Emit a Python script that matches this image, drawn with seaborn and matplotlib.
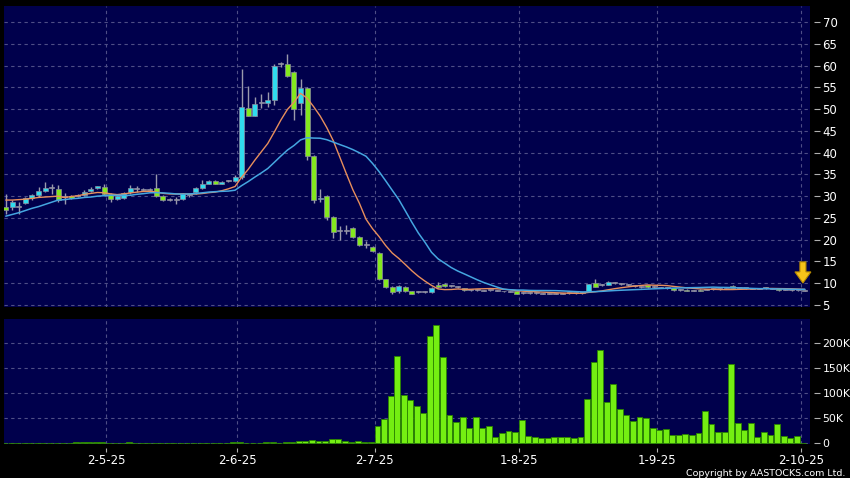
import numpy as np
import pandas as pd
import matplotlib
matplotlib.use("Agg")
import matplotlib.pyplot as plt
from matplotlib.patches import Polygon
from matplotlib import font_manager
import seaborn as sns

# ---------------- data (trading-day index 0..122) ----------------
opens = [27.4, 27.4, 27.5, 28.5, 29.5, 30.2, 31.1, 31.8, 31.6, 29.8,
         30.0, 30.0, 30.2, 31.1, 31.8, 32.1, 30.5, 29.4, 29.5, 31.0,
         31.6, 31.5, 31.5, 31.8, 30.0, 29.2, 29.2, 29.3, 30.3, 30.9,
         31.9, 32.9, 33.5, 32.9, 33.5, 33.4, 34.3, 50.3, 48.5, 51.3,
         51.3, 52.1, 60.3, 60.3, 58.6, 51.3, 54.9, 39.2, 29.3, 30.0,
         25.3, 22.1, 22.1, 22.6, 20.6, 18.7, 18.4, 16.9, 10.9, 9.1,
         8.2, 9.1, 8.2, 7.9, 7.9, 7.9, 9.7, 9.8, 9.4, 9.1,
         8.9, 8.4, 8.4, 8.3, 8.4, 8.3, 8.1, 8.0, 8.1, 7.8,
         7.8, 7.7, 7.7, 7.6, 7.7, 7.6, 7.7, 7.7, 7.8, 8.3,
         10.1, 9.6, 9.7, 10.1, 9.9, 9.6, 9.4, 9.2, 9.5, 9.1,
         9.0, 8.9, 8.8, 8.4, 8.5, 8.3, 8.5, 8.5, 8.6, 8.7,
         8.7, 9.3, 8.9, 8.8, 8.7, 8.7, 8.8, 8.7, 8.8, 8.5,
         8.5, 8.4, 8.3]
closes = [26.9, 28.6, 27.5, 29.6, 30.2, 31.1, 31.9, 31.8, 29.2, 29.8,
          29.6, 30.0, 31.0, 31.7, 32.3, 30.5, 29.4, 30.0, 30.8, 31.9,
          31.6, 31.5, 31.5, 30.1, 29.1, 29.2, 29.2, 30.5, 30.3, 31.9,
          32.7, 33.5, 32.9, 33.2, 33.5, 34.4, 50.4, 48.5, 51.2, 51.3,
          52.1, 59.9, 60.3, 57.6, 50.0, 54.9, 39.2, 29.0, 29.6, 25.1,
          21.7, 22.1, 22.1, 20.7, 18.8, 18.7, 17.3, 10.9, 9.1, 7.9,
          9.4, 8.1, 7.6, 7.9, 7.9, 8.9, 9.2, 9.3, 9.4, 9.1,
          8.4, 8.4, 8.4, 8.3, 8.4, 8.3, 8.1, 8.0, 7.6, 7.8,
          7.8, 7.7, 7.6, 7.6, 7.6, 7.7, 7.7, 7.7, 7.8, 9.8,
          9.2, 9.6, 10.35, 10.1, 9.8, 9.6, 9.4, 9.2, 9.05, 9.1,
          9.0, 8.9, 8.4, 8.5, 8.2, 8.4, 8.2, 8.6, 8.7, 8.7,
          8.8, 9.0, 8.9, 8.8, 8.7, 8.7, 9.0, 8.7, 8.4, 8.5,
          8.4, 8.4, 8.3]
highs = [30.6, 29.2, 28.6, 29.9, 30.5, 32.0, 33.3, 32.9, 32.5, 30.7,
         30.3, 30.4, 31.5, 32.1, 32.4, 32.8, 30.8, 30.4, 31.0, 32.5,
         32.3, 31.8, 31.8, 35.2, 30.2, 29.5, 29.7, 30.7, 30.6, 32.1,
         33.7, 33.6, 33.7, 33.5, 33.8, 34.8, 59.3, 55.3, 52.8, 53.4,
         54.0, 60.3, 60.9, 62.6, 58.8, 57.0, 55.0, 39.4, 31.6, 30.2,
         25.5, 23.2, 23.4, 22.9, 20.8, 19.6, 18.6, 17.1, 11.0, 9.4,
         9.6, 9.3, 8.3, 8.1, 8.1, 9.1, 10.2, 10.1, 9.6, 9.3,
         9.0, 8.6, 8.6, 8.5, 8.5, 8.4, 8.3, 8.2, 8.2, 7.9,
         7.9, 7.9, 7.8, 7.8, 7.8, 7.8, 7.8, 7.9, 8.0, 9.9,
         10.9, 9.9, 10.5, 10.3, 10.1, 9.8, 9.6, 9.4, 9.6, 9.3,
         9.2, 9.1, 8.9, 8.6, 8.6, 8.5, 8.6, 8.7, 8.8, 8.8,
         8.9, 9.6, 9.0, 8.9, 8.9, 8.8, 9.2, 8.9, 8.9, 8.6,
         8.6, 8.5, 8.4]
lows = [25.9, 26.9, 26.0, 28.2, 29.2, 29.8, 30.9, 30.6, 28.7, 28.3,
        29.3, 29.7, 30.0, 30.9, 31.6, 30.2, 28.7, 29.2, 29.3, 30.6,
        30.9, 31.2, 31.2, 29.9, 28.9, 28.8, 28.2, 29.0, 29.9, 30.5,
        31.7, 32.7, 32.7, 32.8, 33.2, 33.2, 34.0, 48.3, 48.3, 50.2,
        50.5, 50.9, 59.6, 57.4, 47.5, 48.6, 38.3, 28.4, 28.7, 24.6,
        20.5, 19.9, 21.4, 20.5, 18.6, 18.0, 17.2, 10.8, 9.0, 7.5,
        7.7, 8.0, 7.5, 7.7, 7.7, 7.8, 9.0, 9.2, 9.2, 8.9,
        8.3, 8.2, 8.2, 8.1, 8.2, 8.1, 8.0, 7.9, 7.5, 7.6,
        7.6, 7.5, 7.5, 7.5, 7.5, 7.5, 7.5, 7.6, 7.6, 8.2,
        9.1, 9.3, 9.6, 9.8, 9.6, 9.4, 9.2, 9.0, 9.0, 8.9,
        8.8, 8.7, 8.3, 8.2, 8.1, 8.2, 8.2, 8.4, 8.5, 8.5,
        8.6, 8.9, 8.7, 8.6, 8.6, 8.6, 8.7, 8.6, 8.3, 8.4,
        8.3, 8.3, 8.2]
volumes = [400, 500, 300, 400, 600, 500, 400, 300, 600, 400,
           500, 2500, 2200, 2000, 2300, 1800, 1000, 800, 1200, 2000,
           600, 500, 700, 1500, 800, 500, 600, 700, 500, 800,
           600, 700, 500, 600, 800, 3000, 3500, 1500, 1000, 1200,
           2000, 2200, 1000, 3000, 3200, 4800, 4600, 6800, 5200, 5400,
           8000, 7800, 4800, 3000, 4700, 3000, 3200, 34700, 49300, 95300,
           174700, 97300, 86000, 74700, 60000, 214700, 236700, 172000, 56000, 42700,
           52700, 30700, 52700, 30700, 34000, 13300, 21300, 25300, 23300, 46700,
           14700, 13300, 10700, 10700, 12700, 12700, 12000, 10700, 12700, 89300,
           163300, 186700, 82700, 118000, 69300, 57300, 44000, 52700, 50000, 30000,
           26000, 28000, 16000, 17300, 18000, 17300, 20000, 65300, 38700, 22700,
           22700, 158700, 40000, 26700, 40000, 12700, 23300, 16700, 38000, 14700,
           11300, 14000, 500]
# moving-average values at the left edge (window extends before the visible data)
ma10_head = [29.1, 29.1, 29.2, 29.3, 29.5, 29.7, 29.8, 29.9, 30.0]
ma20_head = [25.4, 25.8, 26.2, 26.7, 27.2, 27.6, 28.1, 28.6, 29.1, 29.2,
             29.4, 29.5, 29.7, 29.8, 30.0, 30.1, 30.2, 30.2, 30.2]
tick_days = [16, 36, 57, 79, 100, 122]
tick_labels = ["2-5-25", "2-6-25", "2-7-25", "1-8-25", "1-9-25", "2-10-25"]
price_ticks = [5, 10, 15, 20, 25, 30, 35, 40, 45, 50, 55, 60, 65, 70]
vol_ticks = [0, 50000, 100000, 150000, 200000]
vol_labels = ["0", "50K", "100K", "150K", "200K"]

# ---------------- style ----------------
sns.set_theme(style="dark")
plt.rcParams['font.family'] = ['DejaVu Sans']

NAVY = '#00004c'
GRID = '#4e4e86'
UP = '#30dcee'
DOWN = '#84e81e'
DOJI = '#a8a8b8'
WICK = '#9a9aac'
MA10C = '#e88f5c'
MA20C = '#45a6e0'
VOLC = '#74ee12'
VOLE = '#2a8400'

df = pd.DataFrame({"day": np.arange(len(closes)), "open": opens, "high": highs,
                   "low": lows, "close": closes, "volume": volumes})
ma10 = df["close"].rolling(10).mean().to_numpy()
ma10[:len(ma10_head)] = ma10_head
ma20 = df["close"].rolling(20).mean().to_numpy()
ma20[:len(ma20_head)] = ma20_head
df["ma10"] = ma10
df["ma20"] = ma20
df["vol_x"] = df["day"] - 0.25

fig = plt.figure(figsize=(8.5, 4.78), dpi=100, facecolor='black')
axp = fig.add_axes([4 / 850, 1 - 307 / 478, 806 / 850, 301 / 478])
axv = fig.add_axes([4 / 850, 1 - 444 / 478, 806 / 850, 125 / 478])

XMIN, XMAX = -0.27, 122.78
tick_pos = [d - 0.65 for d in tick_days]

for ax in (axp, axv):
    ax.set_facecolor(NAVY)
    for s in ax.spines.values():
        s.set_visible(False)

# ---------------- price panel ----------------
o = df["open"].to_numpy(); c = df["close"].to_numpy()
diff = c - o
colors = [UP if d > 0.12 else (DOWN if d < -0.12 else DOJI) for d in diff]
bottoms = np.minimum(o, c)
heights = np.maximum(np.abs(diff), 0.22)
axp.vlines(df["day"], df["low"], df["high"], color=WICK, lw=1.0, zorder=2)
axp.bar(df["day"], heights, bottom=bottoms, width=0.76, color=colors,
        edgecolor='#8c8ca0', linewidth=0.5, zorder=3)
sns.lineplot(data=df, x="day", y="ma10", ax=axp, color=MA10C, linewidth=1.0, zorder=4)
sns.lineplot(data=df, x="day", y="ma20", ax=axp, color=MA20C, linewidth=1.1, zorder=4)

axp.set_xlim(XMIN, XMAX)
axp.set_ylim(4.54, 73.67)
axp.set_xticks(tick_pos)
axp.set_xticklabels([])
axp.tick_params(axis='x', length=0)
axp.yaxis.tick_right()
axp.set_yticks(price_ticks)
axp.set_yticklabels([str(t) for t in price_ticks])
axp.spines['right'].set_position(('outward', 3))
axp.tick_params(axis='y', colors='white', labelsize=8.5, length=4, width=0.8,
                direction='out', pad=2, right=True, left=False,
                labelright=True, labelleft=False)
axp.tick_params(axis='y', color='#b0b0b0')
axp.grid(True, color=GRID, linestyle=(0, (3, 3)), linewidth=0.8)
axp.set_xlabel(""); axp.set_ylabel("")

# yellow arrow marker
ax_ = 121.7
arrow = Polygon([(ax_ - 0.46, 14.9), (ax_ + 0.46, 14.9), (ax_ + 0.46, 12.6),
                 (ax_ + 1.22, 12.6), (ax_, 10.05), (ax_ - 1.22, 12.6),
                 (ax_ - 0.46, 12.6)], closed=True, facecolor='#f7c21a',
                edgecolor='#b88a00', linewidth=0.8, zorder=6, clip_on=False)
axp.add_patch(arrow)

# ---------------- volume panel ----------------
sns.barplot(data=df, x="vol_x", y="volume", ax=axv, native_scale=True,
            width=0.9, color=VOLC, saturation=1, edgecolor=VOLE,
            linewidth=0.6, errorbar=None, zorder=3)
axv.set_xlim(XMIN, XMAX)
axv.set_ylim(-1400, 248600)
axv.set_xticks(tick_pos)
axv.set_xticklabels(tick_labels)
axv.yaxis.tick_right()
axv.set_yticks(vol_ticks)
axv.set_yticklabels(vol_labels)
axv.spines['right'].set_position(('outward', 3))
axv.spines['bottom'].set_position(('outward', 3))
axv.tick_params(axis='y', colors='white', labelsize=7.8, length=4, width=0.8,
                direction='out', pad=2, right=True, left=False,
                labelright=True, labelleft=False)
axv.tick_params(axis='y', color='#b0b0b0')
axv.tick_params(axis='x', colors='white', labelsize=8.5, length=3, width=0.8,
                direction='out', pad=1.5, bottom=True)
axv.tick_params(axis='x', color='#b0b0b0')
axv.grid(True, color=GRID, linestyle=(0, (3, 3)), linewidth=0.8)
axv.set_axisbelow(True)
axp.set_axisbelow(True)
axv.set_xlabel(""); axv.set_ylabel("")

# copyright
names = {f.name for f in font_manager.fontManager.ttflist}
if 'Liberation Sans Narrow' in names:
    fig.text(845 / 850, 1 - 477.5 / 478, "Copyright by AASTOCKS.com Ltd.",
             ha='right', va='bottom', color='white', fontsize=9.2,
             family=['Liberation Sans Narrow', 'DejaVu Sans'])
else:
    fig.text(845 / 850, 1 - 477.5 / 478, "Copyright by AASTOCKS.com Ltd.",
             ha='right', va='bottom', color='white', fontsize=6.8)

fig.savefig("out.png", dpi=100, facecolor='black')
